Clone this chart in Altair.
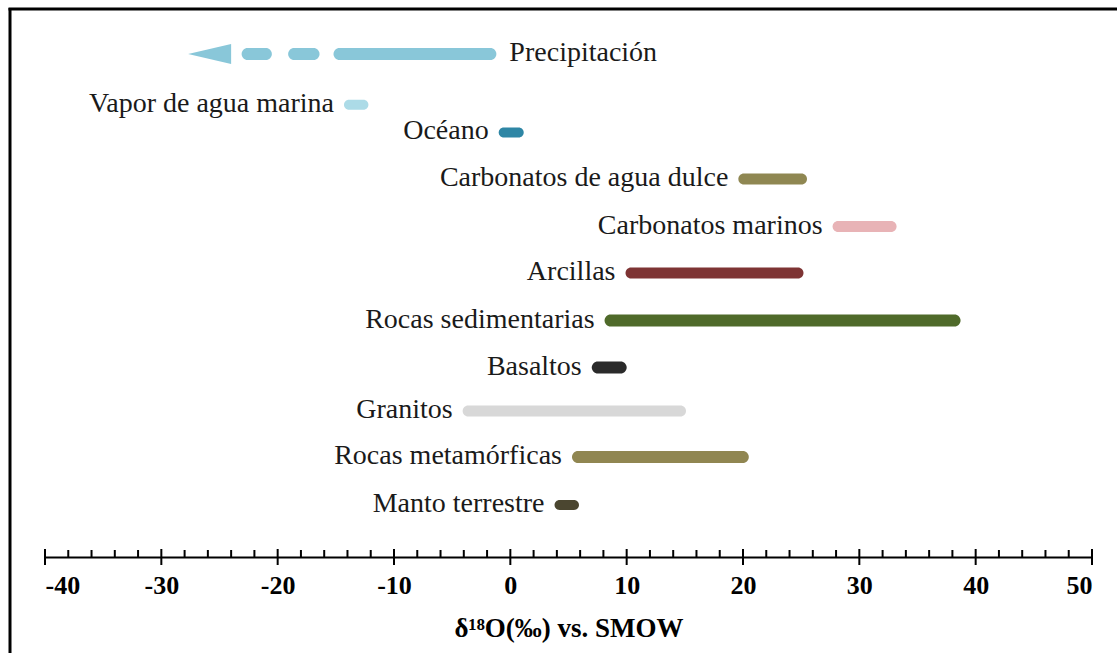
import altair as alt
import pandas as pd

# ---- data ----
categories = ["Precipitación", "Vapor de agua marina", "Océano",
              "Carbonatos de agua dulce", "Carbonatos marinos", "Arcillas",
              "Rocas sedimentarias", "Basaltos", "Granitos",
              "Rocas metamórficas", "Manto terrestre"]
range_lo = [-15.2, -14.3, -1.0, 19.6, 27.7, 9.9, 8.1, 7.0, -4.1, 5.3, 3.8]
range_hi = [-1.2, -12.2, 1.15, 25.5, 33.2, 25.2, 38.7, 10.0, 15.1, 20.5, 5.9]
lane = [0, 1.10, 1.70, 2.71, 3.74, 4.75, 5.78, 6.80, 7.74, 8.74, 9.78]

# precipitation extension (dashes) and arrow head
dash_lo = [-23.1, -19.1]
dash_hi = [-20.5, -16.4]
arrow_tip = -27.7
arrow_base = -24.0

major_ticks = list(range(-40, 51, 10))
minor_ticks = [v for v in range(-40, 51, 2) if v % 10 != 0]

# ---- styles ----
colors = ["#89c7d9", "#acdbe7", "#2e86a5", "#8f8752", "#e8b3b6", "#7e3434",
          "#4f6a2a", "#2a2a2a", "#d8d8d8", "#908651", "#4b4630"]
thick = [12, 10, 10, 11, 11, 11, 12, 12, 11, 12, 10]

df = pd.DataFrame({"cat": categories, "lo": range_lo, "hi": range_hi,
                   "lane": lane, "thick": thick})
dash_df = pd.DataFrame({"cat": ["Precipitación"] * 2, "lo": dash_lo,
                        "hi": dash_hi, "lane": [lane[0]] * 2, "thick": [12, 12]})
arrow_df = pd.DataFrame({"x": [(arrow_tip + arrow_base) / 2], "lane": [lane[0]]})
major_df = pd.DataFrame({"v": major_ticks})
minor_df = pd.DataFrame({"v": minor_ticks})
one = pd.DataFrame({"a": [0]})

FONT = "Liberation Serif"
xscale = alt.Scale(domain=[-40, 50], nice=False, zero=False)
yscale = alt.Scale(domain=[-1.065, 10.80], reverse=True)
cscale = alt.Scale(domain=categories, range=colors)

xaxis = alt.Axis(values=major_ticks, ticks=False, grid=False,
                 domainColor="black", domainWidth=2,
                 labelExpr="datum.value + ''",
                 labelFont=FONT, labelFontSize=26, labelFontWeight="bold",
                 labelColor="black", labelPadding=15,
                 title="δ¹⁸O(‰) vs. SMOW", titleFont=FONT, titleFontSize=27,
                 titleFontWeight="bold", titleColor="black", titlePadding=17)

bars = alt.Chart(df).mark_bar(cornerRadius=6).encode(
    x=alt.X("lo:Q", scale=xscale, axis=xaxis),
    x2="hi:Q",
    y=alt.Y("lane:Q", scale=yscale, axis=None),
    size=alt.Size("thick:Q", scale=None, legend=None),
    color=alt.Color("cat:N", scale=cscale, legend=None),
)

dashes = alt.Chart(dash_df).mark_bar(cornerRadius=6).encode(
    x=alt.X("lo:Q", scale=xscale),
    x2="hi:Q",
    y=alt.Y("lane:Q", scale=yscale),
    size=alt.Size("thick:Q", scale=None, legend=None),
    color=alt.Color("cat:N", scale=cscale, legend=None),
)

arrow = alt.Chart(arrow_df).mark_point(
    shape="M-1,0L1,-0.465L1,0.465Z", filled=True, opacity=1,
    color=colors[0], size=1849,
).encode(
    x=alt.X("x:Q", scale=xscale),
    y=alt.Y("lane:Q", scale=yscale),
)

labels_left = alt.Chart(df[df["cat"] != "Precipitación"]).mark_text(
    align="right", baseline="middle", dx=-10, dy=-1, font=FONT, fontSize=28,
    color="#1a1a1a",
).encode(
    x=alt.X("lo:Q", scale=xscale),
    y=alt.Y("lane:Q", scale=yscale),
    text="cat:N",
)

labels_right = alt.Chart(df[df["cat"] == "Precipitación"]).mark_text(
    align="left", baseline="middle", dx=13, dy=-1, font=FONT, fontSize=28,
    color="#1a1a1a",
).encode(
    x=alt.X("hi:Q", scale=xscale),
    y=alt.Y("lane:Q", scale=yscale),
    text="cat:N",
)

major = alt.Chart(major_df).mark_rule(color="black", strokeWidth=2).encode(
    x=alt.X("v:Q", scale=xscale),
    y=alt.value(549), y2=alt.value(565),
)
minor = alt.Chart(minor_df).mark_rule(color="black", strokeWidth=2).encode(
    x=alt.X("v:Q", scale=xscale),
    y=alt.value(550), y2=alt.value(557),
)

frame_left = alt.Chart(one).mark_rule(color="black", strokeWidth=3).encode(
    x=alt.value(-35), y=alt.value(8), y2=alt.value(700))
frame_top = alt.Chart(one).mark_rule(color="black", strokeWidth=3).encode(
    x=alt.value(-36.5), x2=alt.value(1200), y=alt.value(9))

chart = alt.layer(
    frame_left, frame_top, bars, dashes, arrow, labels_left, labels_right,
    major, minor,
).properties(
    width=1047, height=557,
    autosize=alt.AutoSizeParams(type="none"),
    padding={"left": 45, "top": 0, "right": 25, "bottom": 96},
    background="white",
).configure_view(stroke=None)

chart.save("out.html", embed_options={"renderer": "svg", "actions": False})
